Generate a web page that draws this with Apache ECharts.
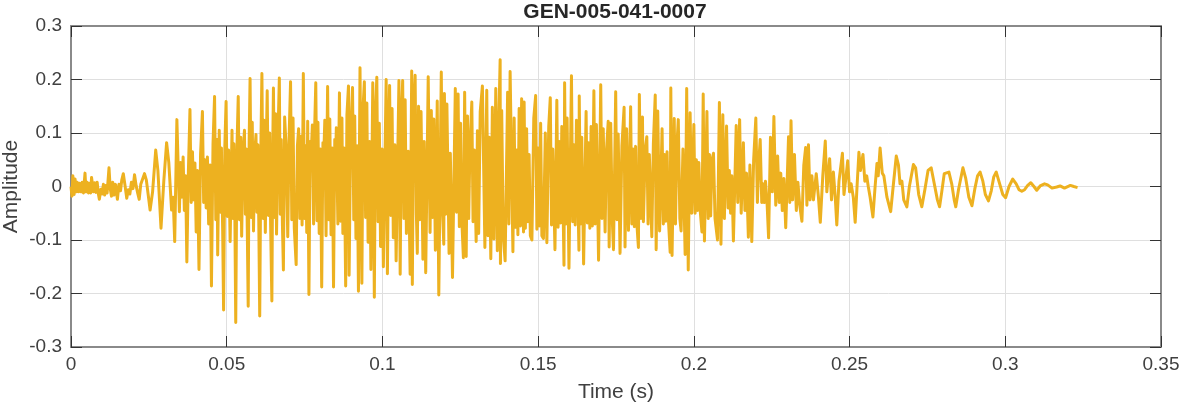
<!DOCTYPE html>
<html><head><meta charset="utf-8">
<style>html,body{margin:0;padding:0;background:#fff}#c{width:1182px;height:404px}</style>
<script src="https://cdn.jsdelivr.net/npm/echarts@6/dist/echarts.min.js"></script></head>
<body><div id="c"></div>
<script>
// Flat pairs: time in ms, amplitude in thousandths
const noiseOnset=[0,0,.3,-18,.6,20,1,-15,1.3,14,1.7,-10,2,8,2.4,-10,2.8,6,3.2,-10,3.6,8,4,-12,4.5,25,4.8,-10,5.2,8,5.6,-12,6,6,6.3,-12,6.6,17,7.2,-10,7.6,7,8,-11,8.4,8,8.8,-14,9.1,-24,9.6,-5,10,-14,10.4,4,10.8,-16,11.2,2,11.6,-12,12.2,35,12.6,-4,13,-18,13.4,8,13.8,-16,14.3,4,14.9,-24,15.4,4,15.9,-8,16.3,12,16.8,24,17.3,4,17.9,-22,18.4,-6,18.9,-14,19.4,8,19.9,-4,20.4,22,20.9,2,21.4,-12,21.9,-24,22.4,4,23,6,23.6,24,24.2,12,25.4,-44,26.2,-10,27.2,68,27.9,30,28.9,-78,29.8,10,30.7,82,31.4,45,32.3,-44,32.8,-20,33.3,-103];
const blockRise=[34,125,34.4,40,34.8,-47,35.2,45,35.6,-20,36,55,36.4,-45,36.8,20,37.2,-141,37.7,30,38.2,144,38.6,-30,39,65,39.4,-25,39.8,44,40.2,-85,40.6,30,41.1,-155,41.6,60,42.2,140,42.6,-30,43,50,43.4,-40,43.8,55,44.2,-70,44.7,40,45.1,-186,45.6,80,46.1,168,46.5,-62,46.9,88,47.1,-128,47.6,105,48,-48,48.3,72,48.7,-82,49,-231,49.4,76,49.8,159,50.2,-56,50.6,68,51.1,-103,51.7,105,52,-60,52.3,80,52.6,-44,52.9,-254,53.3,74,53.7,168,54.1,-62,54.5,92,54.8,-93,55.2,58,55.7,105,56,-52,56.3,70,56.6,-78,56.9,-224,57.2,84,57.5,202,57.9,-58,58.2,120,58.6,-83,59,62,59.4,97,59.7,-48,60,78,60.3,-66,60.6,-242,61,88,61.3,211,61.7,-60,62,124,62.4,-86,62.7,70,63,179,63.4,-54,63.8,100,64.1,-72,64.5,-214,64.8,82,65,184,65.4,-58,65.7,136,66,-89,66.4,76,66.9,203,67.2,-52,67.5,88,67.9,-74,68.2,-156,68.6,130,69.1,70,69.6,-94,70,84,70.5,196,70.9,-62,71.3,128,71.7,-78,72.3,-146,72.7,76,73.1,108,73.5,-60,73.9,94,74.2,-72,74.6,211,75,-60,75.3,76,75.7,-86,76,122,76.4,-202,76.8,84,77.1,56,77.5,115,77.9,-70,78.2,100,78.6,194,79,-64,79.3,120,79.7,-88,80.1,70,80.5,-188,80.9,82,81.2,64,81.5,124,81.9,-92,82.2,88,82.4,187,82.8,-62,83.1,126,83.5,-90,83.9,72,84.3,-188,84.7,88,85,62,85.2,110,85.7,-70];
const blockPeak=[86.2,175,86.6,-65,87,128,87.3,-88,87.7,72,88.2,-186,88.6,134,89.1,188,89.3,-166,89.8,98,90.4,185,90.8,-62,91.1,132,91.5,-97,91.9,76,92.3,-196,92.8,222,93.4,-181,93.8,150,94.2,196,94.6,-58,95,156,95.4,-104,95.9,84,96.3,-155,96.9,194,97.4,-207,97.8,142,98.2,204,98.6,-66,99,118,99.4,-112,99.9,70,100.3,-150,101.2,200,101.6,-163,102,92,102.3,189,102.7,-54,103.1,146,103.5,-96,104,78,104.4,-139,105.3,198,105.7,-164,106.1,130,106.5,198,106.9,-60,107.3,162,107.7,-88,108.3,66,108.9,-164,109.4,216,109.6,-183,110,138,110.5,208,110.9,-52,111.2,-125,111.6,150,112,-62,112.4,140,113,-136,113.4,84,113.9,-161,114.7,205,115.3,-86,115.7,142,116.1,-58,116.5,126,117,-119,117.6,160,118.1,-203,118.9,214,119.3,-46,119.7,-108,119.9,174,120.3,-52,120.7,154,121.4,-125,121.8,62,122.5,-170,123.4,183,123.8,-48,124.3,173,124.7,-75,125.1,118,125.5,-64,126,-133,126.4,176,126.9,-131,127.3,132,127.7,-60,128.1,72,128.7,158,129.1,-66,129.5,68,130.1,-103,130.5,104,130.9,-88,131.4,140,132.1,188,132.9,-114,133.5,180,133.9,-92,134.3,92,134.8,-135,135.3,148,135.8,-98,136.4,183,136.9,-120,137.4,130,137.8,237,137.9,-144,138.3,142,138.8,-92,139.4,-139,140.2,176,140.6,-70,141,215,141.9,-122,142.3,128,142.7,-76,143.1,68,143.5,-90,143.9,146,144.3,-74,144.7,164,145.3,-85,145.5,158,145.9,-78,146.3,108,146.7,-66,147.1,60,147.5,-92,148,-100,148.6,128,149.2,170];
const blockFall=[149.6,-80,150,72,150.4,-74,150.8,118,151.2,-92,151.7,-97,152.3,100,152.8,-105,153.4,112,153.9,166,154.3,-72,154.7,70,155.4,-118,156,161,156.4,-76,156.8,84,157.2,-68,157.6,112,158.3,-147,158.5,194,158.9,-70,159.3,128,159.9,-153,160.7,207,161.1,-66,161.5,78,161.9,-72,162.3,124,163.1,-119,163.2,169,163.6,-70,164,92,164.6,-145,165.4,140,165.8,-68,166.2,82,166.6,-78,167,112,167.4,-74,167.9,179,168.3,-70,168.7,116,169.4,-138,170.1,190,170.5,-60,170.9,108,171.5,-85,171.9,62,172.5,122,172.8,-113,173.3,118,173.8,-62,174.2,-118,174.9,177,175.3,-62,175.7,98,176.3,-125,176.9,76,177.6,148,177.9,-113,178.4,108,179,-82,179.7,149,180.1,-70,180.5,70,180.9,-75,181.3,75,181.7,-70,182.2,-114,182.5,172,183,-60,183.5,130,183.8,-66,184.4,70,184.9,93,185.3,-70,185.7,60,186.5,-94,187,80,187.6,171,187.9,-118,188.4,141,189,-83,189.8,108,190.2,-70,190.6,60,191,-65,191.4,65,191.9,-70,192.4,-123,192.6,184,193,-129,193.7,127,194.1,-70,194.5,70,195,125,195.5,-60,195.9,-83,196.5,70,197.2,-127,197.7,183,198.2,-156,198.8,138,199.3,-50,200,116,200.4,-50,200.8,50,201.2,-45,201.6,45,202.1,-50,202.6,-85,203,173,203.4,-102,204.2,140,204.6,-60,205,60,205.4,-55,205.8,50,206.3,62,206.8,-60,207.6,-100,208.2,157,208.7,-108,209.3,134,209.8,-60,210.5,113];
const blockDecay=[211,-40,211.4,30,211.8,-50,212.2,20,212.7,-102,213.6,114,214.1,-30,214.7,125,215.2,-50,215.9,82,216.4,-45,216.9,25,217.5,-95,218,40,218.6,-103,219.2,50,219.9,128,220.4,-30,220.8,40,221.3,88,221.8,-30,222.2,5,222.6,-30,223,10,223.5,-30,224,-96,224.6,92,225.2,-10,225.7,131,226.3,-35,226.9,57,227.4,-30,227.9,25,228.4,-45,228.9,15,229.5,-77,230.4,93,230.8,-30,231.2,123,231.7,-25,232.3,60,232.9,-45,233.4,8,234,-35,234.7,-65,235.3,40,235.9,73,236.3,-35,236.8,78,237.3,-25,237.9,20,238.4,-25,239.3,24,240,-20,240.6,-67,241.4,20,242.2,85,242.7,-10,243.6,52,244.2,-25,244.8,27,245.4,-20,245.9,-72,246.6,10,247.7,62,248.2,-15,248.7,10,249.4,48,250,-10,250.5,5,251.2,-20,251.8,-67,252.4,0,253,64,253.5,30,254.3,60,254.9,10,255.5,20,256,0,256.6,-20,257.5,-57];
const blockTail=[258.2,0,258.8,43,259.2,20,259.8,72,260.5,25,261,20,262,-20,263.2,-47,264,0,265,57,265.7,40,266.2,5,266.8,10,267.4,-25,268.4,-38,269.2,0,270.5,41,271.2,35,272.2,-15,273.2,-38,274.2,-5,275.2,30,276.2,35,277.2,5,278.2,-25,278.9,-38,279.6,-10,280.4,24,281,27,281.9,27,282.8,5,283.6,-25,284.1,-38,285,-5,286.4,35,287.3,15,288.3,-20,289.3,-36,290.2,-5,291.1,20,291.9,27,292.8,10,293.6,-15,294.6,-27,295.5,-8,296.3,18,297.1,27,298.2,5,299.2,-15,300.1,-21,301.2,0,302.4,14,303.5,5,304.4,-6,305.3,-9,306.2,-6,307.2,2,308.2,7,309.2,0,310.1,-7,311.2,1,312.6,5,313.6,3,315,-3,315.5,-4,316.5,-1,317.6,1,319,-3,320.9,2,322,0,323.2,-2];
const blocks=[noiseOnset,blockRise,blockPeak,blockFall,blockDecay,blockTail];
const titleText='GEN-005-041-0007', xName='Time (s)', yName='Amplitude';

const points=[];
blocks.forEach(b=>{for(let i=0;i<b.length;i+=2)points.push([b[i]/1000,b[i+1]/1000]);});
const FONT='"Liberation Sans", Arial, sans-serif';
const frame={show:true,onZero:false,lineStyle:{color:'#8a8a8a',width:2}};
const tick={show:true,inside:true,length:11,lineStyle:{color:'#333',width:1}};
const grid={show:true,lineStyle:{color:'#dfdfdf',width:1}};
const chart=echarts.init(document.getElementById('c'),null,{renderer:'canvas'});
chart.setOption({
 animation:false,backgroundColor:'#fff',
 title:{text:titleText,left:610,top:-3,textAlign:'center',textStyle:{fontFamily:FONT,fontSize:21,fontWeight:'bold',color:'#262626'}},
 grid:{left:71,right:21,top:26,bottom:57,containLabel:false,outerBoundsMode:'none'},
 xAxis:[
  {type:'value',min:0,max:0.35,interval:0.05,position:'bottom',axisLine:frame,axisTick:tick,splitLine:grid,
   axisLabel:{fontFamily:FONT,fontSize:19,color:'#404040',margin:8,hideOverlap:false,showMinLabel:true,showMaxLabel:true,formatter:v=>String(+v.toFixed(2))},
   name:xName,nameLocation:'middle',nameGap:35,nameMoveOverlap:false,nameTextStyle:{fontFamily:FONT,fontSize:21,color:'#404040'}},
  {type:'value',min:0,max:0.35,interval:0.05,position:'top',axisLine:frame,axisTick:tick,splitLine:{show:false},axisLabel:{show:false}}
 ],
 yAxis:[
  {type:'value',min:-0.3,max:0.3,interval:0.1,position:'left',axisLine:frame,axisTick:tick,splitLine:grid,
   axisLabel:{fontFamily:FONT,fontSize:19,color:'#404040',margin:9,showMinLabel:true,showMaxLabel:true,formatter:v=>String(+v.toFixed(1))},
   name:yName,nameLocation:'middle',nameGap:49,nameMoveOverlap:false,nameTextStyle:{fontFamily:FONT,fontSize:21,color:'#404040'}},
  {type:'value',min:-0.3,max:0.3,interval:0.1,position:'right',axisLine:frame,axisTick:tick,splitLine:{show:false},axisLabel:{show:false}}
 ],
 series:[{type:'line',data:points,showSymbol:false,symbol:'none',sampling:false,smooth:false,clip:true,
  lineStyle:{color:'#EDB120',width:3,join:'round'},z:3}]
});
</script></body></html>
